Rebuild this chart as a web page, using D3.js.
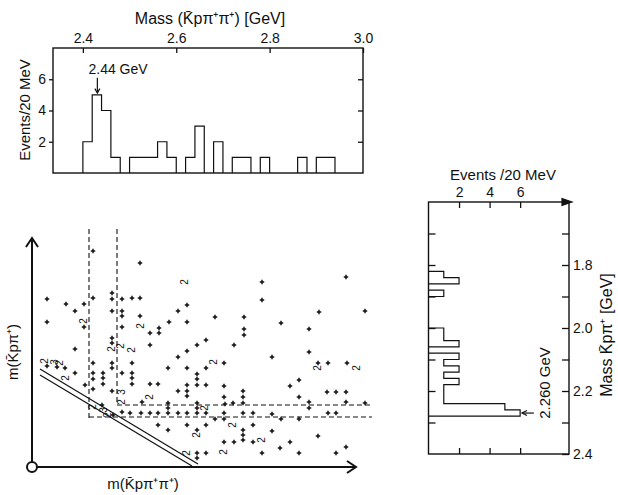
<!DOCTYPE html>
<html>
<head>
<meta charset="utf-8">
<script src="https://d3js.org/d3.v7.min.js"></script>
<style>
  body { margin: 0; background: #fff; }
  text { font-family: 'Liberation Sans', Arial, sans-serif; fill: #111; }
  .frame { fill: none; stroke: #111; stroke-width: 1.4; }
  .hist { fill: none; stroke: #111; stroke-width: 1.2; }
  .axis line { stroke: #111; stroke-width: 1.3; }
  .axis text { font-size: 14px; }
  .dash { fill: none; stroke: #111; stroke-width: 1.1; stroke-dasharray: 5,3; }
  .bound { fill: none; stroke: #111; stroke-width: 1.2; }
  .arrow { fill: none; stroke: #111; stroke-width: 2; }
</style>
</head>
<body>
<svg id="fig" width="618" height="495"></svg>
<script>
// top histogram: M(K-p pi+ pi+), 20 MeV bins
var topBinStart = [2.40, 2.42, 2.44, 2.46, 2.50, 2.52, 2.54, 2.56, 2.58, 2.62, 2.64, 2.68, 2.72, 2.74, 2.78, 2.86, 2.90, 2.92];
var topCounts   = [2, 5, 4, 1, 1, 1, 1, 2, 1, 1, 3, 2, 1, 1, 1, 1, 1, 1];
var topMassTicks = [2.4, 2.6, 2.8, 3.0];
var topCountTicks = [2, 4, 6];

// side histogram: M(K-p pi+), 20 MeV bins
var sideBinStart = [1.82, 1.84, 1.88, 2.00, 2.02, 2.04, 2.08, 2.10, 2.12, 2.14, 2.16, 2.18, 2.20, 2.22, 2.24, 2.26];
var sideCounts   = [1, 2, 1, 1, 1, 2, 2, 1, 2, 1, 2, 1, 1, 1, 5, 6];
var sideMassTicks  = [1.7, 1.8, 1.9, 2.0, 2.1, 2.2, 2.3, 2.4];
var sideMassLabels = ["", "1.8", "", "2.0", "", "2.2", "", "2.4"];
var sideCountTicks = [2, 4, 6];

var binWidth = 0.02;

// scatter plot (no scale printed: arbitrary units along each axis)
var dotX = [61,108,230,314,230,15,34,43,52,61,80,80,80,90,90,100,108,155,146,15,52,90,90,108,118,118,80,80,43,
  183,212,137,155,127,127,212,212,165,174,202,287,333,249,277,155,146,192,136,155,174,165,165,165,118,126,155,155,155,
  174,192,146,192,211,211,136,136,165,165,193,201,211,98,109,118,126,136,146,155,165,174,183,192,192,211,221,126,136,
  155,174,165,192,211,211,211,202,221,230,165,165,174,221,240,277,286,296,315,258,267,267,295,304,314,277,277,314,333,
  240,249,267,296,304,240,258,286,248,267,304,314,15,25,33,43,53,61,80,80,100,61,61,61,71,71,71,80,90,100,100,100,110,
  70,81,90];
var dotY = [216,204,185,190,167,168,163,156,163,169,174,168,156,168,156,169,169,162,156,145,140,151,140,151,134,122,129,124,118,
  150,150,145,145,139,134,138,132,122,127,122,155,156,144,138,116,110,104,99,99,99,93,88,82,83,83,82,76,71,
  82,81,76,70,76,70,64,59,64,59,63,64,64,54,54,54,54,54,54,54,54,54,48,54,48,54,54,42,37,
  42,42,37,25,37,32,27,25,25,14,14,9,14,42,110,115,104,104,104,81,87,70,75,75,75,65,59,65,64,
  53,48,48,54,54,36,25,31,19,14,14,20,101,100,99,94,82,104,104,99,104,94,88,78,94,89,83,76,94,94,89,83,65,
  62,52,55];
// "2" / "3" = two or three events at the same place
var multX = [153,52,109,89,80,100,13,23,28,34,90,90,118,182,173,201,165,192,230,155,286,325,61,72,76];
var multY = [185,146,141,121,118,117,106,105,104,89,75,65,70,105,59,42,32,15,27,14,99,99,60,57,52];
var multN = ["2","2","2","2","2","2","2","3","2","2","3","2","2","2","2","2","2","2","2","2","2","2","2","3","2"];

// cut bands drawn on the scatter plot
var cutX = [57, 85];          // vertical dashed lines
var cutXTop = [238, 238];
var cutXBottom = [47, 62];
var cutY = [62, 50];          // horizontal dashed lines
var cutYFrom = [85, 57];
var cutYTo = [339, 340];
// kinematic boundary (two parallel lines)
var boundA = [[8, 98], [166, 3]];
var boundB = [[8, 92], [160, 1]];

var svg = d3.select("#fig");

function stepRuns(starts, counts) {
  var runs = [], cur = null;
  for (var i = 0; i < starts.length; i++) {
    if (cur && Math.abs(cur.end - starts[i]) < 1e-6) {
      cur.bins.push([starts[i], counts[i]]);
      cur.end = starts[i] + binWidth;
    } else {
      cur = { bins: [[starts[i], counts[i]]], end: starts[i] + binWidth };
      runs.push(cur);
    }
  }
  return runs;
}

// ---------- top histogram
var tx = d3.scaleLinear().domain([2.336, 3.0]).range([53, 363]);
var ty = d3.scaleLinear().domain([0, 8]).range([173, 48]);

stepRuns(topBinStart, topCounts).forEach(function(r) {
  var pts = [[tx(r.bins[0][0]), ty(0)]];
  r.bins.forEach(function(b) {
    pts.push([tx(b[0]), ty(b[1])]);
    pts.push([tx(b[0] + binWidth), ty(b[1])]);
  });
  pts.push([tx(r.end), ty(0)]);
  svg.append("path").attr("class", "hist").attr("d", d3.line()(pts));
});

svg.append("rect").attr("class", "frame")
  .attr("x", tx(2.336)).attr("y", ty(8))
  .attr("width", tx(3.0) - tx(2.336)).attr("height", ty(0) - ty(8));

var g = svg.append("g").attr("class", "axis").attr("transform", "translate(0," + ty(8) + ")")
  .call(d3.axisTop(tx).tickValues(topMassTicks).tickFormat(d3.format(".1f")).tickSize(-5).tickPadding(5));
g.select(".domain").remove();
g = svg.append("g").attr("class", "axis").attr("transform", "translate(" + tx(2.336) + ",0)")
  .call(d3.axisLeft(ty).tickValues(topCountTicks).tickSize(4).tickPadding(3));
g.select(".domain").remove();
g = svg.append("g").attr("class", "axis").attr("transform", "translate(" + tx(3.0) + ",0)")
  .call(d3.axisRight(ty).tickValues(topCountTicks).tickSize(-5).tickFormat(""));
g.select(".domain").remove();

svg.append("text").attr("x", 210).attr("y", 24).attr("text-anchor", "middle")
  .style("font-size", "16px").text("Mass (K\u0304pπ⁺π⁺) [GeV]");
svg.append("text").attr("transform", "translate(30,110) rotate(-90)").attr("text-anchor", "middle")
  .style("font-size", "15px").text("Events/20 MeV");
svg.append("text").attr("x", tx(2.412)).attr("y", ty(6.35)).style("font-size", "14px").text("2.44 GeV");
svg.append("line").attr("class", "hist").attr("x1", tx(2.431)).attr("x2", tx(2.431))
  .attr("y1", ty(6.1)).attr("y2", ty(5.15));
svg.append("path").attr("class", "hist")
  .attr("d", d3.line()([[tx(2.431) - 2.5, ty(5.4)], [tx(2.431), ty(5.12)], [tx(2.431) + 2.5, ty(5.4)]]));

// ---------- side histogram
var rx = d3.scaleLinear().domain([0, 9.2]).range([428.5, 569]);
var ry = d3.scaleLinear().domain([1.6, 2.4]).range([202, 454]);

stepRuns(sideBinStart, sideCounts).forEach(function(r) {
  var pts = [[rx(0), ry(r.bins[0][0])]];
  r.bins.forEach(function(b) {
    pts.push([rx(b[1]), ry(b[0])]);
    pts.push([rx(b[1]), ry(b[0] + binWidth)]);
  });
  pts.push([rx(0), ry(r.end)]);
  svg.append("path").attr("class", "hist").attr("d", d3.line()(pts));
});

svg.append("rect").attr("class", "frame")
  .attr("x", rx(0)).attr("y", ry(1.6))
  .attr("width", rx(9.2) - rx(0)).attr("height", ry(2.4) - ry(1.6));
svg.append("path").attr("class", "hist").style("fill", "#111")
  .attr("d", d3.line()([[rx(9.2) - 7, ry(1.6) - 3.5], [rx(9.2) + 3, ry(1.6)], [rx(9.2) - 7, ry(1.6) + 3.5]]) + "Z");

g = svg.append("g").attr("class", "axis").attr("transform", "translate(0," + ry(1.6) + ")")
  .call(d3.axisTop(rx).tickValues(sideCountTicks).tickSize(-6).tickPadding(5));
g.select(".domain").remove();
g = svg.append("g").attr("class", "axis").attr("transform", "translate(0," + ry(2.4) + ")")
  .call(d3.axisBottom(rx).tickValues(sideCountTicks).tickSize(-6).tickFormat(""));
g.select(".domain").remove();
g = svg.append("g").attr("class", "axis").attr("transform", "translate(" + rx(0) + ",0)")
  .call(d3.axisLeft(ry).tickValues(sideMassTicks.slice(0, 7)).tickSize(-7).tickFormat(""));
g.select(".domain").remove();
g = svg.append("g").attr("class", "axis").attr("transform", "translate(" + rx(9.2) + ",0)")
  .call(d3.axisRight(ry).tickValues(sideMassTicks).tickSize(-7).tickPadding(4)
    .tickFormat(function(d, i) { return sideMassLabels[i]; }));
g.select(".domain").remove();

svg.append("text").attr("x", 503).attr("y", 180).attr("text-anchor", "middle")
  .style("font-size", "15px").text("Events /20 MeV");
svg.append("text").attr("transform", "translate(612,335) rotate(-90)").attr("text-anchor", "middle")
  .style("font-size", "16px").text("Mass  K\u0304pπ⁺   [GeV]");
svg.append("text").attr("transform", "translate(550,383) rotate(-90)").attr("text-anchor", "middle")
  .style("font-size", "15px").text("2.260 GeV");
svg.append("line").attr("class", "hist").attr("x1", rx(6.9)).attr("x2", rx(6.15))
  .attr("y1", ry(2.27)).attr("y2", ry(2.27));
svg.append("path").attr("class", "hist")
  .attr("d", d3.line()([[rx(6.45), ry(2.27) - 2.5], [rx(6.12), ry(2.27)], [rx(6.45), ry(2.27) + 2.5]]));

// ---------- scatter plot
var sx = d3.scaleLinear().domain([0, 340]).range([32, 372]);
var sy = d3.scaleLinear().domain([0, 240]).range([467, 227]);

cutX.forEach(function(v, i) {
  svg.append("line").attr("class", "dash").attr("x1", sx(v)).attr("x2", sx(v))
    .attr("y1", sy(cutXTop[i])).attr("y2", sy(cutXBottom[i]));
});
cutY.forEach(function(v, i) {
  svg.append("line").attr("class", "dash").attr("x1", sx(cutYFrom[i])).attr("x2", sx(cutYTo[i]))
    .attr("y1", sy(v)).attr("y2", sy(v));
});
[boundA, boundB].forEach(function(b) {
  svg.append("path").attr("class", "bound")
    .attr("d", d3.line().x(function(d) { return sx(d[0]); }).y(function(d) { return sy(d[1]); })(b));
});

var cross = d3.symbol().type(d3.symbolCross).size(11);
svg.append("g").selectAll("path").data(dotX).enter().append("path")
  .attr("d", cross)
  .attr("transform", function(d, i) { return "translate(" + sx(d) + "," + sy(dotY[i]) + ")"; })
  .style("fill", "#111");

svg.append("g").selectAll("text").data(multN).enter().append("text")
  .attr("transform", function(d, i) { return "translate(" + (sx(multX[i]) + 3) + "," + sy(multY[i]) + ") rotate(-90)"; })
  .attr("text-anchor", "middle")
  .style("font-size", "10px").text(function(d) { return d; });

// axes with arrows
svg.append("path").attr("class", "arrow")
  .attr("d", d3.line()([[sx(0), sy(0)], [sx(0), sy(229)]]));
svg.append("path").attr("class", "arrow")
  .attr("d", d3.line()([[sx(0) - 6, sy(229) + 9], [sx(0), sy(229)], [sx(0) + 6, sy(229) + 9]]));
svg.append("path").attr("class", "arrow")
  .attr("d", d3.line()([[sx(0), sy(0)], [sx(324), sy(0)]]));
svg.append("path").attr("class", "arrow")
  .attr("d", d3.line()([[sx(324) - 9, sy(0) - 6], [sx(324), sy(0)], [sx(324) - 9, sy(0) + 6]]));
svg.append("circle").attr("cx", sx(0)).attr("cy", sy(0)).attr("r", 5)
  .style("fill", "#fff").style("stroke", "#111").style("stroke-width", 2);

svg.append("text").attr("x", 143).attr("y", 489).attr("text-anchor", "middle")
  .style("font-size", "15px").text("m(K\u0304pπ⁺π⁺)");
svg.append("text").attr("transform", "translate(18,352) rotate(-90)").attr("text-anchor", "middle")
  .style("font-size", "15px").text("m(K\u0304pπ⁺)");
</script>
</body>
</html>
